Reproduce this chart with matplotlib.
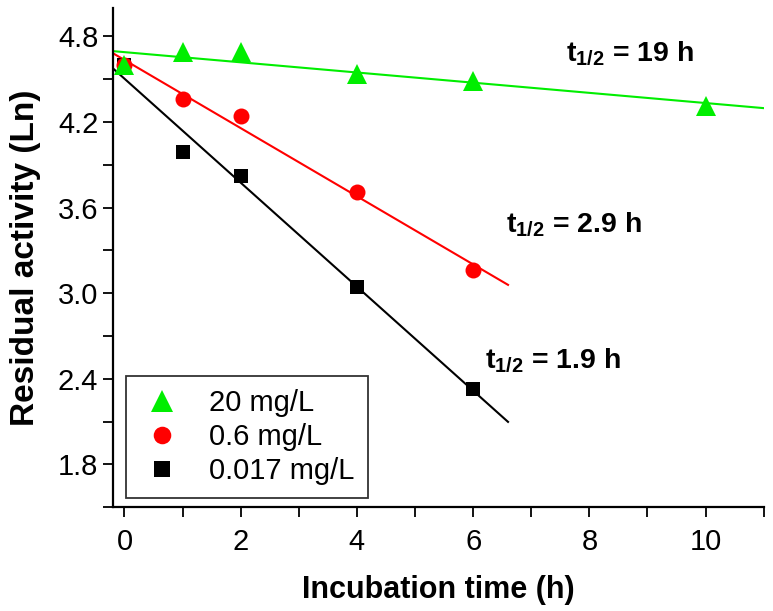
import matplotlib
matplotlib.use("Agg")
import matplotlib.pyplot as plt
from matplotlib.ticker import MultipleLocator
import numpy as np

plt.rcParams["font.family"] = ["Liberation Sans", "DejaVu Sans"]
plt.rcParams["mathtext.fontset"] = "custom"
plt.rcParams["mathtext.rm"] = "Liberation Sans"
plt.rcParams["mathtext.bf"] = "Liberation Sans:bold"

# data
time_20 = [0, 1, 2, 4, 6, 10]
act_20 = [4.60, 4.69, 4.69, 4.54, 4.49, 4.31]
time_06 = [0, 1, 2, 4, 6]
act_06 = [4.60, 4.36, 4.24, 3.71, 3.16]
time_0017 = [0, 1, 2, 4, 6]
act_0017 = [4.60, 3.99, 3.82, 3.04, 2.33]

labels = ["20 mg/L", "0.6 mg/L", "0.017 mg/L"]
half_lives = ["19", "2.9", "1.9"]

fig = plt.figure(figsize=(7.73, 6.11), dpi=100)
ax = fig.add_axes([0.146, 0.170, 0.842, 0.817])

series = [
    (time_0017, act_0017, "black", "s", 10, 6.6),
    (time_06, act_06, "#ff0000", "o", 11.5, 6.6),
    (time_20, act_20, "#00ee00", "^", 14, 11.0),
]
handles = {}
for t, a, col, mk, ms, xend in series:
    k, b = np.polyfit(t, a, 1)
    xs = np.array([-0.2, xend])
    ax.plot(xs, k * xs + b, color=col, lw=1.5, zorder=2)
    h, = ax.plot(t, a, linestyle="none", marker=mk, color=col, ms=ms,
                 markeredgewidth=0, zorder=3)
    handles[col] = h

ax.set_xlim(-0.2, 11.0)
ax.set_ylim(1.5, 5.0)
ax.xaxis.set_major_locator(MultipleLocator(2))
ax.xaxis.set_minor_locator(MultipleLocator(1))
ax.yaxis.set_minor_locator(MultipleLocator(0.3))
ax.set_yticks([1.8, 2.4, 3.0, 3.6, 4.2, 4.8])
ax.tick_params(which="both", direction="out", length=7, width=1.3,
               labelsize=21)
ax.tick_params(axis="x", pad=8)
for s in ["top", "right"]:
    ax.spines[s].set_visible(False)
for s in ["left", "bottom"]:
    ax.spines[s].set_linewidth(1.6)

ax.set_xlabel("Incubation time (h)", fontsize=22, fontweight="bold",
              labelpad=14)
ax.set_ylabel("Residual activity (Ln)", fontsize=24, fontweight="bold",
              labelpad=12)

txt_pos = [(7.6, 4.68), (6.57, 3.475), (6.2, 2.525)]
for (x, y), hl in zip(txt_pos, half_lives):
    ax.text(x, y, r"$\mathbf{t}_{\mathregular{1/2}}$ = " + hl + " h",
            fontsize=20.5, fontweight="bold", va="center", ha="left")

leg = ax.legend([handles["#00ee00"], handles["#ff0000"], handles["black"]],
                labels, loc="lower left", bbox_to_anchor=(0.02, 0.018),
                borderaxespad=0, fontsize=21, fancybox=False, frameon=True,
                edgecolor="black", handlelength=1.6, handletextpad=0.8,
                labelspacing=0.2, borderpad=0.45, markerscale=1.1)
leg.get_frame().set_linewidth(1.3)

fig.savefig("out.png", dpi=100)
